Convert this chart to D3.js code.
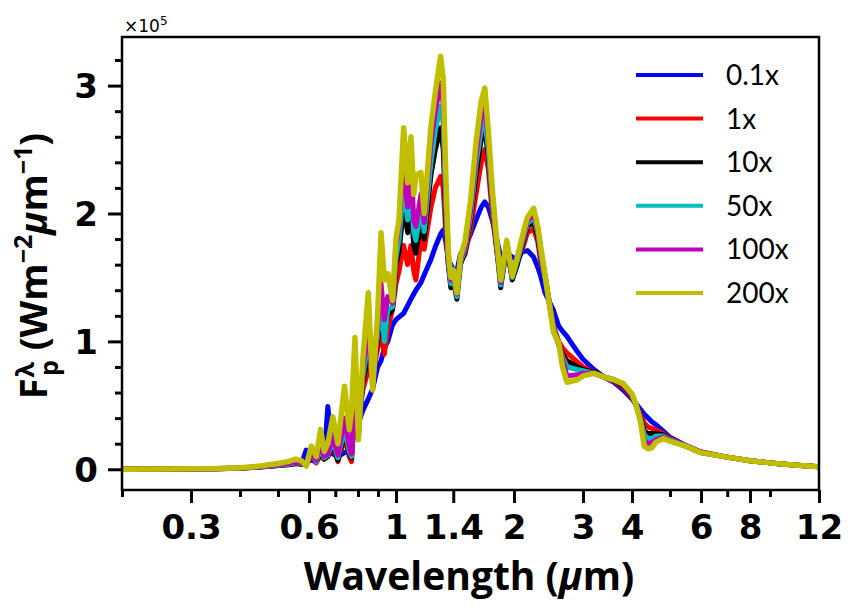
<!DOCTYPE html>
<html><head><meta charset="utf-8">
<script src="https://cdn.jsdelivr.net/npm/d3@7"></script>
<style>
html,body{margin:0;padding:0;background:#fff;}
svg{display:block;}
text{font-family:Lato,"DejaVu Sans",sans-serif;}
</style></head>
<body>
<svg id="chart" width="857" height="613"></svg>
<script>
// ---- DATA (flux in units of 1e5 W m^-2 um^-1) ----
const wavelength_um = [0.20,0.25,0.30,0.35,0.40,0.45,0.50,0.53,0.555,0.575,0.59,0.608,0.626,0.642,0.656,0.670,0.690,0.711,0.739,0.760,0.770,0.786,0.802,0.823,0.850,0.872,0.898,0.916,0.934,0.953,0.980,1.000,1.018,1.046,1.071,1.092,1.110,1.124,1.158,1.180,1.228,1.260,1.300,1.320,1.340,1.360,1.380,1.400,1.430,1.460,1.500,1.550,1.600,1.650,1.685,1.720,1.760,1.800,1.850,1.917,1.980,2.040,2.100,2.164,2.245,2.300,2.340,2.400,2.524,2.600,2.660,2.730,2.900,3.000,3.200,3.400,3.600,3.800,4.000,4.100,4.200,4.300,4.400,4.500,4.600,4.800,5.000,5.500,6.000,7.000,8.000,9.000,10.0,11.0,12.0];

const flux_0p1x = [0,0.002,0.003,0.006,0.010,0.020,0.030,0.040,0.050,0.045,0.150,0.070,0.060,0.100,0.090,0.490,0.120,0.100,0.130,0.150,0.200,0.280,0.360,0.460,0.550,0.630,0.800,0.850,0.950,1.00,1.13,1.17,1.19,1.22,1.28,1.33,1.37,1.40,1.46,1.52,1.64,1.74,1.84,1.87,1.78,1.64,1.60,1.56,1.55,1.68,1.74,1.84,1.95,2.05,2.09,2.05,1.95,1.82,1.66,1.69,1.66,1.64,1.70,1.71,1.66,1.58,1.51,1.38,1.24,1.12,1.08,1.04,0.92,0.86,0.78,0.72,0.68,0.62,0.55,0.51,0.47,0.43,0.40,0.37,0.35,0.30,0.25,0.185,0.135,0.095,0.067,0.050,0.038,0.028,0.020];

const flux_1x = [0,0.002,0.003,0.004,0.008,0.018,0.030,0.035,0.045,0.040,0.035,0.100,0.050,0.120,0.080,0.100,0.180,0.060,0.250,0.100,0.060,0.450,0.350,0.620,0.780,0.720,0.950,1.05,0.900,1.10,1.25,1.45,1.55,1.75,1.60,1.75,1.55,1.48,1.80,1.72,2.05,2.20,2.29,2.20,1.85,1.60,1.45,1.50,1.38,1.62,1.68,1.88,2.15,2.40,2.50,2.35,2.00,1.75,1.48,1.72,1.50,1.62,1.72,1.85,1.88,1.78,1.62,1.50,1.12,1.00,0.95,0.91,0.84,0.80,0.76,0.72,0.69,0.64,0.56,0.50,0.43,0.36,0.33,0.32,0.31,0.28,0.24,0.18,0.135,0.095,0.067,0.050,0.038,0.028,0.020];

const flux_10x = [0,0.002,0.003,0.004,0.008,0.018,0.030,0.035,0.045,0.040,0.035,0.110,0.060,0.140,0.080,0.100,0.200,0.070,0.280,0.120,0.090,0.550,0.300,0.680,0.900,0.780,1.00,1.20,1.05,1.20,1.25,1.60,1.70,2.05,1.85,2.05,1.75,1.69,1.95,1.80,2.30,2.50,2.67,2.50,1.95,1.60,1.42,1.48,1.33,1.60,1.70,1.95,2.30,2.58,2.65,2.45,2.08,1.78,1.42,1.74,1.48,1.60,1.75,1.90,1.93,1.82,1.66,1.50,1.10,0.98,0.90,0.85,0.80,0.78,0.76,0.72,0.70,0.65,0.57,0.50,0.41,0.30,0.28,0.28,0.28,0.27,0.23,0.18,0.13,0.095,0.067,0.050,0.038,0.028,0.020];

const flux_50x = [0,0.002,0.003,0.004,0.009,0.020,0.032,0.040,0.050,0.045,0.035,0.120,0.060,0.160,0.090,0.110,0.220,0.090,0.320,0.140,0.100,0.600,0.280,0.720,1.00,0.800,1.05,1.30,1.00,1.25,1.27,1.65,1.80,2.20,1.95,2.20,1.85,1.79,2.05,1.86,2.40,2.65,2.84,2.70,2.05,1.62,1.45,1.50,1.35,1.62,1.72,1.98,2.38,2.66,2.73,2.50,2.10,1.80,1.44,1.76,1.50,1.63,1.77,1.92,1.97,1.85,1.68,1.50,1.10,0.98,0.88,0.80,0.78,0.77,0.75,0.72,0.70,0.66,0.58,0.50,0.40,0.27,0.24,0.24,0.26,0.26,0.23,0.18,0.13,0.095,0.067,0.050,0.038,0.028,0.020];

const flux_100x = [0,0.002,0.003,0.005,0.010,0.022,0.035,0.045,0.055,0.050,0.035,0.130,0.070,0.200,0.100,0.120,0.260,0.110,0.400,0.180,0.120,0.700,0.250,0.780,1.10,0.650,1.10,1.45,1.17,1.35,1.30,1.75,1.90,2.40,2.05,2.40,1.95,1.90,2.15,1.93,2.55,2.80,3.02,2.85,2.15,1.65,1.48,1.52,1.37,1.64,1.74,2.02,2.45,2.76,2.85,2.58,2.15,1.82,1.46,1.77,1.51,1.66,1.79,1.94,2.00,1.87,1.70,1.52,1.08,0.98,0.86,0.73,0.74,0.75,0.75,0.72,0.70,0.66,0.58,0.50,0.39,0.22,0.20,0.21,0.23,0.25,0.225,0.18,0.13,0.095,0.067,0.050,0.038,0.028,0.020];

const flux_200x = [0,0.002,0.004,0.006,0.012,0.025,0.045,0.060,0.080,0.065,0.025,0.180,0.100,0.310,0.140,0.200,0.410,0.200,0.650,0.310,0.450,1.03,0.230,0.860,1.38,0.620,1.22,1.85,1.48,1.53,1.32,1.80,1.95,2.67,2.24,2.60,2.15,2.30,2.32,2.00,2.68,2.95,3.23,3.05,2.30,1.70,1.50,1.56,1.38,1.66,1.78,2.10,2.55,2.88,2.98,2.65,2.20,1.85,1.48,1.79,1.51,1.66,1.82,1.97,2.04,1.90,1.74,1.52,1.07,0.99,0.80,0.68,0.70,0.73,0.75,0.72,0.70,0.67,0.59,0.50,0.38,0.18,0.16,0.17,0.21,0.24,0.22,0.18,0.13,0.095,0.067,0.050,0.038,0.028,0.020];

const seriesLabels = ["0.1x","1x","10x","50x","100x","200x"];
const seriesColors = ["#0000ff","#ff0000","#000000","#00bfbf","#bf00bf","#bfbf00"];
const seriesValues = [flux_0p1x, flux_1x, flux_10x, flux_50x, flux_100x, flux_200x];

const xMajorTicks = [0.3,0.6,1,1.4,2,3,4,6,8,12];
const xMajorLabels = ["0.3","0.6","1","1.4","2","3","4","6","8","12"];
const xMinorTicks = [0.2,0.4,0.5,0.7,0.8,0.9,5,7,9];
const yMajorTicks = [0,1,2,3];
const yMajorLabels = ["0","1","2","3"];
const yMinorTicks = [0.2,0.4,0.6,0.8,1.2,1.4,1.6,1.8,2.2,2.4,2.6,2.8,3.2];

// ---- LAYOUT ----
const L = 122, R = 819, T = 37, B = 490;
const svg = d3.select("#chart");
const x = d3.scaleLog().domain([0.2, 12]).range([L, R]);
const y = d3.scaleLinear().domain([-0.162, 3.38]).range([B, T]);

svg.append("defs").append("clipPath").attr("id","clip")
  .append("rect").attr("x",L).attr("y",T).attr("width",R-L).attr("height",B-T);

// lines
const line = d3.line().x(d => x(d[0])).y(d => y(d[1]));
const gLines = svg.append("g").attr("clip-path","url(#clip)");
seriesValues.forEach((vals, i) => {
  const pts = wavelength_um.map((w, j) => [w, vals[j]]);
  gLines.append("path").datum(pts)
    .attr("d", line)
    .attr("fill","none")
    .attr("stroke", seriesColors[i])
    .attr("stroke-width", i === 5 ? 5.5 : 5)
    .attr("stroke-linejoin","round")
    .attr("stroke-linecap","round");
});

// frame
svg.append("rect").attr("x",L).attr("y",T).attr("width",R-L).attr("height",B-T)
  .attr("fill","none").attr("stroke","#000").attr("stroke-width",2.5);

// axes
const tickFont = "'DejaVu Sans', sans-serif";
const xMaj = svg.append("g").attr("transform",`translate(0,${B})`)
  .call(d3.axisBottom(x).tickValues(xMajorTicks).tickFormat((d,i)=>xMajorLabels[i]).tickSize(13).tickPadding(12));
const xMin = svg.append("g").attr("transform",`translate(0,${B})`)
  .call(d3.axisBottom(x).tickValues(xMinorTicks).tickFormat("").tickSize(7));
const yMaj = svg.append("g").attr("transform",`translate(${L},0)`)
  .call(d3.axisLeft(y).tickValues(yMajorTicks).tickFormat((d,i)=>yMajorLabels[i]).tickSize(14).tickPadding(10));
const yMin = svg.append("g").attr("transform",`translate(${L},0)`)
  .call(d3.axisLeft(y).tickValues(yMinorTicks).tickFormat("").tickSize(7));

[xMaj,xMin,yMaj,yMin].forEach(g => {
  g.select(".domain").remove();
  g.selectAll(".tick line").attr("stroke","#000").attr("stroke-width",3);
  g.selectAll(".tick text").attr("fill","#000")
    .style("font-family",tickFont).style("font-weight","bold").style("font-size","34px");
});
yMaj.selectAll(".tick text").attr("dy","0.36em");

// offset text
const off = svg.append("text").attr("x",124).attr("y",32).attr("fill","#000")
  .style("font-family","'DejaVu Sans', sans-serif").attr("font-size",17);
off.append("tspan").text("×10");
off.append("tspan").attr("dy",-7).attr("font-size",12).text("5");

// x label
const labelFont = "'Open Sans', sans-serif";
const xl = svg.append("text").attr("x",469).attr("y",590).attr("text-anchor","middle")
  .style("font-family",labelFont).attr("font-size",39).attr("font-weight","bold").attr("fill","#000");
xl.append("tspan").text("Wavelength (");
xl.append("tspan").attr("font-style","italic").text("µ");
xl.append("tspan").text("m)");

// y label
const yl = svg.append("text").attr("transform","translate(47,266) rotate(-90)")
  .attr("text-anchor","middle").style("font-family",labelFont)
  .attr("font-size",38).attr("font-weight","bold").attr("fill","#000");
yl.append("tspan").text("F");
yl.append("tspan").attr("font-size",25).attr("dx",1).attr("dy",-13).text("λ");
yl.append("tspan").attr("font-size",25).attr("dx",-14).attr("dy",24).text("p");
yl.append("tspan").attr("dy",-11).text(" (Wm");
yl.append("tspan").attr("font-size",25).attr("dy",-15).text("−2");
yl.append("tspan").attr("dy",15).attr("font-style","italic").text("µ");
yl.append("tspan").text("m");
yl.append("tspan").attr("font-size",25).attr("dy",-15).text("−1");
yl.append("tspan").attr("dy",15).text(")");

// legend
const lg = svg.append("g");
seriesLabels.forEach((lab, i) => {
  const yy = 75 + i * 43.6;
  lg.append("line").attr("x1",636).attr("x2",703).attr("y1",yy).attr("y2",yy)
    .attr("stroke",seriesColors[i]).attr("stroke-width",4);
  lg.append("text").attr("x",726).attr("y",yy+10).attr("font-size",28).attr("fill","#000").text(lab);
});
</script>
</body></html>
